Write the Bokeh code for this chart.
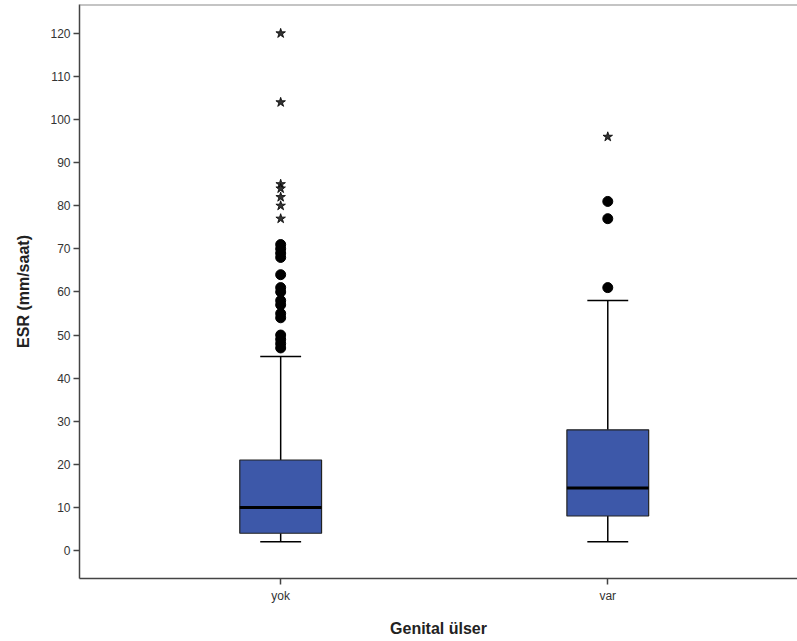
from bokeh.plotting import figure
from bokeh.models import Range1d, FixedTicker, Span
from bokeh.embed import file_html
from bokeh.resources import INLINE

categories = ["yok", "var"]
q1 = [4, 8]
median = [10, 14.5]
q3 = [21, 28]
whisker_low = [2, 2]
whisker_high = [45, 58]
outliers_circle = [
    [71, 70, 69, 68, 64, 61, 60, 58, 57, 55, 54, 50, 49, 48, 47],
    [81, 77, 61],
]
outliers_star = [
    [120, 104, 85, 84, 82, 80, 77],
    [96],
]
y_ticks = list(range(0, 121, 10))

box_w = 0.25
cap_w = 0.125
xs = [i + 1 for i in range(len(categories))]

p = figure(width=797, height=641, output_backend="svg", toolbar_location=None,
           x_range=Range1d(0.385, 2.58), y_range=Range1d(-6.5, 126.7),
           min_border_left=79, min_border_right=0, min_border_top=4, min_border_bottom=63)
p.background_fill_color = "white"
p.border_fill_color = "white"
p.outline_line_color = None
p.xgrid.visible = False
p.ygrid.visible = False

# whiskers
p.segment(x0=xs, y0=q3, x1=xs, y1=whisker_high, line_color="black", line_width=1.5)
p.segment(x0=xs, y0=q1, x1=xs, y1=whisker_low, line_color="black", line_width=1.5)
p.segment(x0=[x - cap_w / 2 for x in xs], y0=whisker_high,
          x1=[x + cap_w / 2 for x in xs], y1=whisker_high, line_color="black", line_width=1.5)
p.segment(x0=[x - cap_w / 2 for x in xs], y0=whisker_low,
          x1=[x + cap_w / 2 for x in xs], y1=whisker_low, line_color="black", line_width=1.5)
# boxes
p.vbar(x=xs, width=box_w, bottom=q1, top=q3, fill_color="#3d58a9",
       line_color="#222222", line_width=1.2)
p.segment(x0=[x - box_w / 2 for x in xs], y0=median,
          x1=[x + box_w / 2 for x in xs], y1=median, line_color="black", line_width=3)

# outliers
for x, vals in zip(xs, outliers_circle):
    p.scatter(x=[x] * len(vals), y=vals, marker="circle", size=10,
              fill_color="black", line_color="black")
for x, vals in zip(xs, outliers_star):
    p.scatter(x=[x] * len(vals), y=vals, marker="star", size=10,
              fill_color="#333333", line_color="black", line_width=0.8)

# top border
p.add_layout(Span(location=126.7, dimension="width", line_color="#8a8a8a", line_width=2))

# axes
p.yaxis.ticker = FixedTicker(ticks=y_ticks)
p.xaxis.ticker = FixedTicker(ticks=xs)
p.xaxis.major_label_overrides = {x: c for x, c in zip(xs, categories)}
for ax in (p.xaxis[0], p.yaxis[0]):
    ax.axis_line_color = "#444444"
    ax.axis_line_width = 1.5
    ax.major_tick_line_color = "#444444"
    ax.major_tick_line_width = 1.5
    ax.major_tick_out = 6
    ax.major_tick_in = 0
    ax.minor_tick_line_color = None
    ax.major_label_text_font = "Liberation Sans"
    ax.major_label_text_font_size = "12px"
    ax.major_label_text_color = "#333333"
    ax.axis_label_text_font = "Liberation Sans"
    ax.axis_label_text_font_size = "16px"
    ax.axis_label_text_font_style = "bold"
    ax.axis_label_text_color = "#222222"
p.yaxis.axis_label = "ESR (mm/saat)"
p.xaxis.axis_label = "Genital ülser"
p.yaxis.major_label_standoff = 3
p.xaxis.major_label_standoff = 4
p.yaxis.axis_label_standoff = 15
p.xaxis.axis_label_standoff = 14

open("out.html", "w").write(file_html(p, INLINE))
